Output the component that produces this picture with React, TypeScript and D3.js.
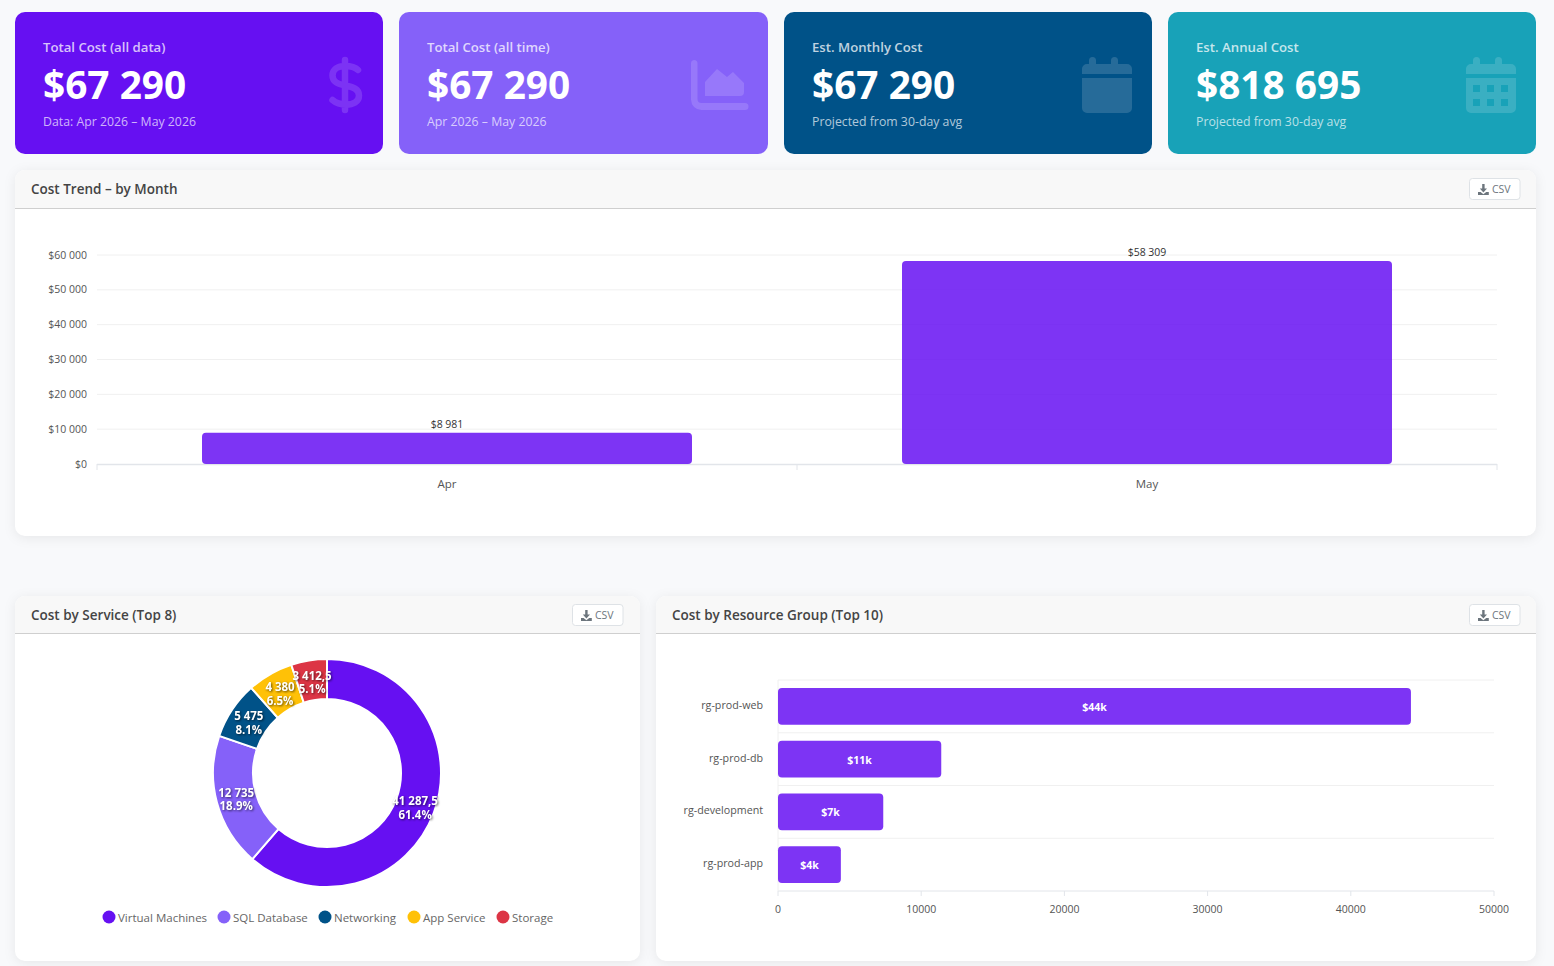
import * as d3 from 'd3';

const FONT = '"Open Sans", "Noto Sans", sans-serif';

const cardLabels = ['Total Cost (all data)', 'Total Cost (all time)', 'Est. Monthly Cost', 'Est. Annual Cost'];
const cardValues = [67290, 67290, 67290, 818695];
const cardNotes = ['Data: Apr 2026 – May 2026', 'Apr 2026 – May 2026', 'Projected from 30-day avg', 'Projected from 30-day avg'];
const cardColors = ['#6610f2', '#8561f9', '#005288', '#18a2b8'];

const months = ['Apr', 'May'];
const monthCosts = [8981, 58309];
const monthTicks = [0, 10000, 20000, 30000, 40000, 50000, 60000];

const services = ['Virtual Machines', 'SQL Database', 'Networking', 'App Service', 'Storage'];
const serviceCosts = [41287.5, 12735, 5475, 4380, 3412.5];
const serviceColors = ['#6610f2', '#8561f9', '#005288', '#ffc107', '#dc3545'];

const groups = ['rg-prod-web', 'rg-prod-db', 'rg-development', 'rg-prod-app'];
const groupCosts = [44200, 11400, 7350, 4390];
const groupTicks = [0, 10000, 20000, 30000, 40000, 50000];

const locale = d3.formatLocale({ decimal: ',', thousands: ' ', grouping: [3], currency: ['$', ''] });
const money = locale.format('$,.0f');
const amount = locale.format(',.1~f');

const BAR_COLOR = '#6610f2';
const GRID = '#f0f0f0';
const AXIS = '#e2e5ea';
const LABEL = '#555';

function DownloadIcon({ x, y }: { x: number; y: number }) {
  return (
    <g transform={`translate(${x},${y})`} fill="#6c757d">
      <rect x={4.2} y={0} width={2.4} height={6} />
      <path d="M1.8 4.6H9L5.4 8.4Z" />
      <path d="M0 8H2.6L5.4 10.2L8.2 8H10.8V11H0Z" />
    </g>
  );
}

function Panel({ x, y, width, height, title, buttonX, headerHeight }: { x: number; y: number; width: number; height: number; title: string; buttonX: number; headerHeight: number }) {
  const clipId = `clip-${x}-${y}`;
  return (
    <g>
      <rect x={x} y={y} width={width} height={height} rx={10} fill="#fff" style={{ filter: 'drop-shadow(0 2px 6px rgba(0,0,0,0.07))' }} />
      <clipPath id={clipId}>
        <rect x={x} y={y} width={width} height={height} rx={10} />
      </clipPath>
      <rect x={x} y={y} width={width} height={headerHeight} fill="#f8f8f8" clipPath={`url(#${clipId})`} />
      <line x1={x} x2={x + width} y1={y + headerHeight + 0.5} y2={y + headerHeight + 0.5} stroke="#cfcfcf" />
      <text x={x + 16} y={y + 24} fontSize={13.5} fontWeight={600} fill="#444">{title}</text>
      <rect x={buttonX + 0.5} y={y + 8.5} width={50.5} height={21} rx={3} fill="#fff" stroke="#dee2e6" />
      <DownloadIcon x={buttonX + 9} y={y + 14} />
      <text x={buttonX + 23} y={y + 23} fontSize={10.5} fill="#6c757d">CSV</text>
    </g>
  );
}

function CardIcon({ kind, x }: { kind: number; x: number }) {
  const calendar = 'M7 7V3.5a3.5 3.5 0 0 1 7 0V7H29V3.5a3.5 3.5 0 0 1 7 0V7H45a5 5 0 0 1 5 5V17H0V12A5 5 0 0 1 5 7ZM0 21H50V51a5 5 0 0 1-5 5H5a5 5 0 0 1-5-5Z';
  const holes = [7, 21, 35].flatMap((cx) => [28, 42].map((cy) => `M${cx} ${cy}h7v7h-7Z`)).join('');
  if (kind === 0) {
    return (
      <g transform={`translate(${x},57)`} fill="none" stroke="#fff" strokeOpacity={0.15} strokeWidth={6.5} strokeLinecap="round">
        <path d="M16 3V53M29 13C26 10 21 9 16 9C9 9 3.5 12 3.5 18.5C3.5 25 9 27 16 28.5C24 30 30 32 30 38.5C30 45 24 47.5 17 47.5C11 47.5 7 46 3.5 43" />
      </g>
    );
  }
  if (kind === 1) {
    return (
      <g transform={`translate(${x},60)`} fill="#fff" fillOpacity={0.15}>
        <path d="M3 0a3.5 3.5 0 0 1 3.5 3.5V39a4 4 0 0 0 4 4H54a3.5 3.5 0 0 1 0 7H10.5A10.5 10.5 0 0 1 0 39.5V3.5A3.5 3.5 0 0 1 3 0Z" />
        <path d="M14 36V22L26 9L36 17L42 12L53 23V32a4 4 0 0 1-4 4Z" />
      </g>
    );
  }
  return (
    <g transform={`translate(${x},57)`} fill="#fff" fillOpacity={0.15}>
      <path fillRule="evenodd" d={kind === 3 ? calendar + holes : calendar} />
    </g>
  );
}

export default function App() {
  const cardX = d3.scaleBand<number>().domain(d3.range(4)).range([15, 1536]).paddingInner(0.0425);

  // trend
  const monthX = d3.scaleBand().domain(months).range([97, 1497]).paddingInner(0.3).paddingOuter(0.15);
  const monthStep = monthX.step();
  const monthY = d3.scaleLinear().domain([0, 60000]).range([464, 255]);

  // donut
  const total = d3.sum(serviceCosts);
  const pie = d3.pie<number>().sort(null)(serviceCosts);
  const arc = d3.arc<d3.PieArcDatum<number>>().innerRadius(74).outerRadius(114);
  const legendX = [109, 224, 325, 414, 503];

  // resource groups
  const groupX = d3.scaleLinear().domain([0, 50000]).range([778, 1494]);
  const groupY = d3.scaleBand().domain(groups).range([680, 891]).padding(0.15).paddingInner(0.3);
  const groupStep = groupY.step();
  const groupLines = d3.range(groups.length + 1).map((i) => 680 + i * groupStep);

  return (
    <>
      <style>{'html,body{margin:0;background:#f8f9fb}'}</style>
      <svg width={1554} height={966} style={{ display: 'block', fontFamily: FONT }}>
        <rect width={1554} height={966} fill="#f8f9fb" />

        <g>
          {cardLabels.map((label, i) => {
            const x = Math.round(cardX(i)!);
            const right = Math.round(cardX(i)! + cardX.bandwidth() + 0.3);
            return (
              <g key={label}>
                <rect x={x} y={12} width={right - x} height={142} rx={10} fill={cardColors[i]} />
                <text x={x + 28} y={52} fontSize={13.2} fontWeight={600} fill="#fff" fillOpacity={0.75}>{label}</text>
                <text x={x + 28} y={99} fontSize={38.8} fontWeight={700} fill="#fff">{money(cardValues[i])}</text>
                <text x={x + 28} y={126} fontSize={12.3} fill="#fff" fillOpacity={0.7}>{cardNotes[i]}</text>
                <CardIcon kind={i} x={x + (i === 0 ? 314 : i === 1 ? 292 : 298)} />
              </g>
            );
          })}
        </g>

        <Panel x={15} y={170} width={1521} height={366} title="Cost Trend – by Month" buttonX={1469} headerHeight={38} />
        <g>
          {monthTicks.map((t) => (
            <g key={t}>
              {t > 0 && <line x1={97} x2={1497} y1={monthY(t)} y2={monthY(t)} stroke={GRID} />}
              <text x={87} y={monthY(t) + 3.5} textAnchor="end" fontSize={10.5} fill={LABEL}>{money(t)}</text>
            </g>
          ))}
          <line x1={97} x2={1497} y1={464.5} y2={464.5} stroke={AXIS} strokeWidth={1.5} />
          {d3.range(months.length + 1).map((i) => (
            <line key={i} x1={97 + i * monthStep} x2={97 + i * monthStep} y1={464} y2={470} stroke={AXIS} />
          ))}
          {months.map((m, i) => (
            <g key={m}>
              <rect x={monthX(m)} y={monthY(monthCosts[i])} width={monthX.bandwidth()} height={monthY(0) - monthY(monthCosts[i])} rx={4} fill={BAR_COLOR} fillOpacity={0.85} />
              <text x={monthX(m)! + monthX.bandwidth() / 2} y={monthY(monthCosts[i]) - 5} textAnchor="middle" fontSize={10.5} fill="#333">{money(monthCosts[i])}</text>
              <text x={monthX(m)! + monthX.bandwidth() / 2} y={488} textAnchor="middle" fontSize={11.5} fill={LABEL}>{m}</text>
            </g>
          ))}
        </g>

        <Panel x={15} y={596} width={625} height={365} title="Cost by Service (Top 8)" buttonX={572} headerHeight={37} />
        <g transform="translate(327,773)">
          {pie.map((d, i) => (
            <path key={services[i]} d={arc(d)!} fill={serviceColors[i]} stroke="#fff" strokeWidth={2} />
          ))}
          {pie.map((d, i) => {
            const [cx, cy] = arc.centroid(d);
            return (
              <text key={services[i]} x={cx} y={cy} textAnchor="middle" fontSize={11.5} fontWeight={700} fill="#fff" style={{ filter: 'drop-shadow(1px 1px 1px rgba(0,0,0,0.6))' }}>
                <tspan x={cx} dy={-0.5}>{amount(serviceCosts[i])}</tspan>
                <tspan x={cx} dy={13.5}>{`${((serviceCosts[i] / total) * 100).toFixed(1)}%`}</tspan>
              </text>
            );
          })}
        </g>
        <g>
          {services.map((s, i) => (
            <g key={s}>
              <circle cx={legendX[i]} cy={917} r={6.5} fill={serviceColors[i]} />
              <text x={legendX[i] + 9} y={922} fontSize={11.5} fill="#666">{s}</text>
            </g>
          ))}
        </g>

        <Panel x={656} y={596} width={880} height={365} title="Cost by Resource Group (Top 10)" buttonX={1469} headerHeight={37} />
        <g>
          {groupLines.map((y, i) => (
            <line key={i} x1={778} x2={1494} y1={y} y2={y} stroke={i === groups.length ? AXIS : GRID} />
          ))}
          <line x1={778} x2={778} y1={680} y2={891} stroke={GRID} />
          {groupTicks.map((t) => (
            <g key={t}>
              <line x1={groupX(t)} x2={groupX(t)} y1={891} y2={896} stroke={AXIS} />
              <text x={groupX(t)} y={913} textAnchor="middle" fontSize={10.5} fill={LABEL}>{t}</text>
            </g>
          ))}
          {groups.map((g, i) => (
            <g key={g}>
              <rect x={groupX(0)} y={groupY(g)} width={groupX(groupCosts[i]) - groupX(0)} height={groupY.bandwidth()} rx={4} fill={BAR_COLOR} fillOpacity={0.85} />
              <text x={763} y={groupY(g)! + groupY.bandwidth() / 2 + 2.4} textAnchor="end" fontSize={10.7} fill={LABEL}>{g}</text>
              <text x={(groupX(0) + groupX(groupCosts[i])) / 2} y={groupY(g)! + groupY.bandwidth() / 2 + 4.6} textAnchor="middle" fontSize={10.5} fontWeight={700} fill="#fff">{`$${Math.round(groupCosts[i] / 1000)}k`}</text>
            </g>
          ))}
        </g>
      </svg>
    </>
  );
}
